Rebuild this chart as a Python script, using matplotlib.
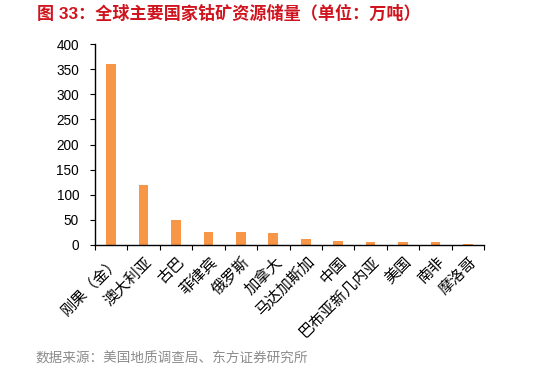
import matplotlib.pyplot as plt
import numpy as np

plt.rcParams['font.family'] = ['Liberation Sans', 'Noto Sans CJK SC']

countries = ['刚果（金）', '澳大利亚', '古巴', '菲律宾', '俄罗斯', '加拿大', '马达加斯加',
             '中国', '巴布亚新几内亚', '美国', '南非', '摩洛哥']
reserves = [360, 120, 50, 26, 25, 23, 12, 8, 5.1, 5.3, 5, 1.4]

fig = plt.figure(figsize=(5.41, 3.77), dpi=100)
ax = fig.add_axes([95 / 541, 1 - 245 / 377, (484 - 95) / 541, (245 - 44) / 377])

x = np.arange(len(countries))
ax.bar(x, reserves, width=0.3, color='#f79646', zorder=2)

ax.set_ylim(0, 400)
ax.set_yticks(range(0, 401, 50))
ax.set_xlim(-0.5, len(countries) - 0.5)
ax.set_xticks(np.arange(-0.5, len(countries), 1))
ax.set_xticklabels([])
ax.set_xticks(x, minor=True)
ax.set_xticklabels(countries, minor=True, rotation=45, ha='right', va='top',
                   rotation_mode='anchor', fontsize=11,
                   family=['Noto Sans CJK SC', 'DejaVu Sans'], fontweight='light')
ax.tick_params(axis='x', which='minor', length=0, pad=6)
ax.tick_params(axis='x', which='major', length=3.5, direction='out')
ax.tick_params(axis='y', length=3.5, direction='out', labelsize=9.8, pad=8)

for s in ['top', 'right']:
    ax.spines[s].set_visible(False)
ax.spines['left'].set_linewidth(1)
ax.spines['bottom'].set_linewidth(1)

fig.text(37 / 541, 1 - 13 / 377, '图 33：全球主要国家钴矿资源储量（单位：万吨）',
         color='#d0141e', fontsize=12.3, fontweight='bold', va='center', ha='left')
fig.text(35 / 541, 1 - 358 / 377, '数据来源：美国地质调查局、东方证券研究所',
         color='#8c8c8c', fontsize=9.8, va='center', ha='left',
         family=['Noto Sans CJK SC', 'DejaVu Sans'], fontweight='light')

fig.savefig('out.png', dpi=100)
